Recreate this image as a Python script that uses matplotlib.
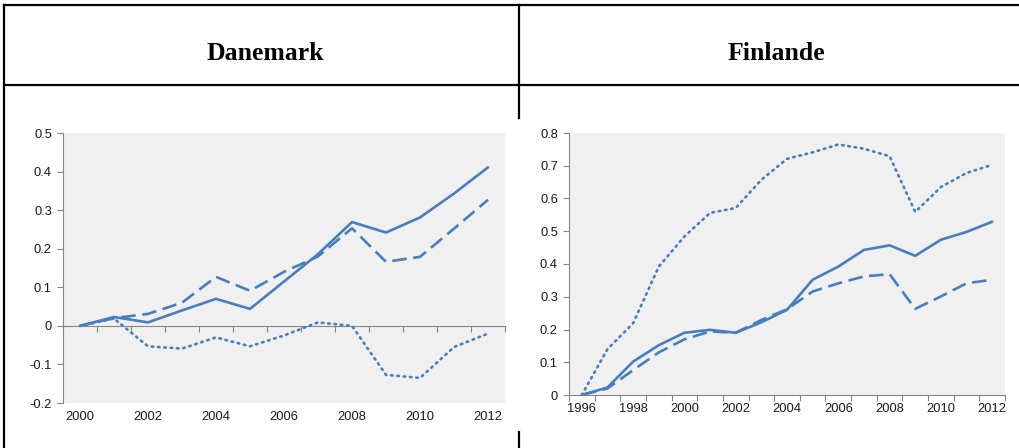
import numpy as np
import matplotlib.pyplot as plt
from matplotlib.lines import Line2D
import matplotlib.transforms as mtransforms

# Danemark, 2000-2012
dk_years = list(range(2000, 2013))
dk_solid = [0, 0.023, 0.009, 0.040, 0.070, 0.044, 0.115, 0.186, 0.269, 0.242, 0.281, 0.343, 0.411]
dk_dashed = [0, 0.020, 0.031, 0.060, 0.127, 0.091, 0.140, 0.180, 0.253, 0.166, 0.179, 0.252, 0.327]
dk_dotted = [0, 0.019, -0.053, -0.059, -0.030, -0.053, -0.025, 0.009, 0.0, -0.127, -0.135, -0.055, -0.020]

# Finlande, 1996-2012
fi_years = list(range(1996, 2013))
fi_solid = [0, 0.023, 0.102, 0.152, 0.190, 0.199, 0.190, 0.222, 0.260, 0.352, 0.392,
            0.443, 0.457, 0.425, 0.474, 0.498, 0.529]
fi_dashed = [0, 0.020, 0.076, 0.130, 0.170, 0.194, 0.190, 0.229, 0.262, 0.316, 0.341,
             0.362, 0.369, 0.263, 0.301, 0.341, 0.352]
fi_dotted = [0, 0.140, 0.219, 0.392, 0.484, 0.556, 0.571, 0.657, 0.721, 0.741, 0.765,
             0.752, 0.729, 0.559, 0.635, 0.678, 0.703]

titles = ["Danemark", "Finlande"]

W, H = 1020, 448
BLUE = "#4a7ebb"
AXC = "#868686"
BG = "#f0f0f0"
TXT = "#1a1a1a"

fig = plt.figure(figsize=(W / 100, H / 100), dpi=100)
fig.patch.set_facecolor("white")

# table frame
def hline(y, x0, x1):
    fig.add_artist(Line2D([x0 / W, x1 / W], [1 - y / H, 1 - y / H], color="black", lw=1.6,
                          transform=fig.transFigure))

def vline(x, y0, y1):
    fig.add_artist(Line2D([x / W, x / W], [1 - y0 / H, 1 - y1 / H], color="black", lw=1.6,
                          transform=fig.transFigure))

hline(5, 4, W)
hline(85, 4, W)
vline(4, 5, H)
vline(519, 5, 118)
vline(519, 432, H)

fig.text(265 / W, 1 - 54 / H, titles[0], ha="center", va="center",
         family="Liberation Serif", weight="bold", fontsize=18.5)
fig.text(776 / W, 1 - 54 / H, titles[1], ha="center", va="center",
         family="Liberation Serif", weight="bold", fontsize=18.5)


def draw_panel(rect, years, solid, dashed, dotted, ylim, ystep, label_every):
    ax = fig.add_axes(rect)
    ax.set_facecolor(BG)
    x = np.arange(len(years))
    ax.plot(x, solid, color=BLUE, lw=1.9, solid_capstyle="round", zorder=3)
    ax.plot(x, dashed, color=BLUE, lw=1.9, dashes=(5.5, 2.5), zorder=3)
    ax.plot(x, dotted, color=BLUE, lw=1.9, dashes=(0.6, 1.8), dash_capstyle="round", zorder=3)
    ax.set_xlim(-0.5, len(years) - 0.5)
    ax.set_ylim(*ylim)
    yt = np.round(np.arange(ylim[0], ylim[1] + ystep / 2, ystep), 2)
    ax.set_yticks(yt)
    ax.set_yticklabels(["0" if abs(v) < 1e-9 else f"{v:g}" for v in yt],
                       family="Liberation Sans", fontsize=9.3, color=TXT)
    for s in ["top", "right"]:
        ax.spines[s].set_visible(False)
    ax.spines["left"].set_color(AXC)
    ax.spines["bottom"].set_color(AXC)
    ax.spines["bottom"].set_position(("data", 0))
    ax.tick_params(axis="y", length=4, color=AXC, width=0.8, pad=4)
    # category boundary ticks on the zero axis
    ax.set_xticks(np.arange(len(years) + 1) - 0.5)
    ax.set_xticklabels([])
    ax.tick_params(axis="x", length=4, color=AXC, width=0.8, direction="out")
    # year labels at the bottom of the plot
    trans = mtransforms.blended_transform_factory(ax.transData, ax.transAxes)
    for i, yr in enumerate(years):
        if i % label_every == 0:
            ax.text(i, -0.03, str(yr), transform=trans, ha="center", va="top",
                    family="Liberation Sans", fontsize=9.3, color=TXT)
    return ax


draw_panel([63 / W, 45 / H, 442 / W, 270 / H], dk_years, dk_solid, dk_dashed, dk_dotted,
           (-0.2, 0.5), 0.1, 2)
draw_panel([569 / W, 53 / H, 436 / W, 262 / H], fi_years, fi_solid, fi_dashed, fi_dotted,
           (0, 0.8), 0.1, 2)

fig.savefig("out.png", dpi=100)
